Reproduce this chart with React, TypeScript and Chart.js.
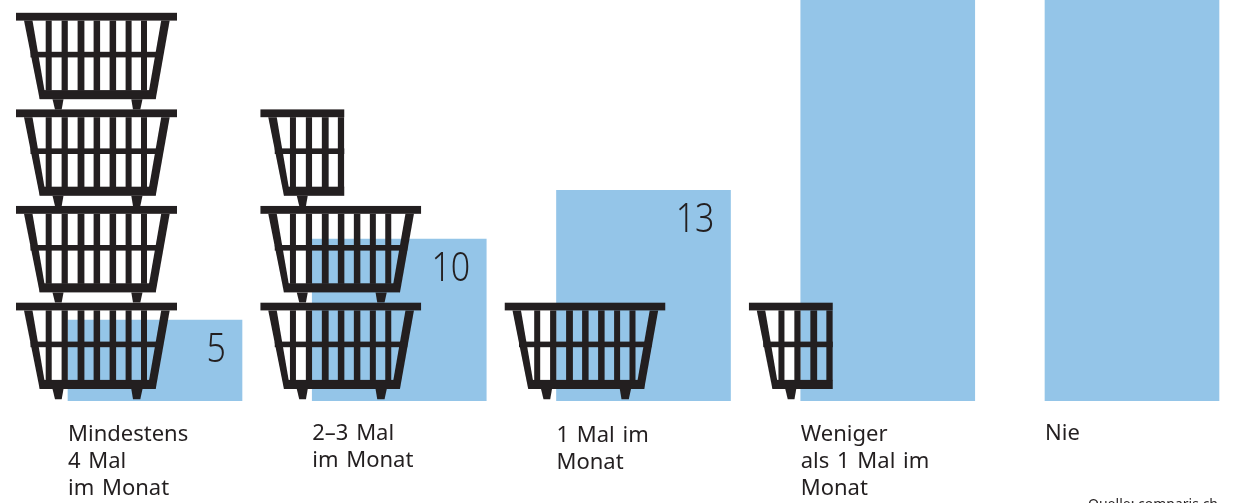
import React, { useEffect, useRef } from "react";
import { Chart, registerables } from "chart.js";

Chart.register(...registerables);

// Share of respondents per shopping frequency, in percent.
const categories: string[][] = [
  ["Mindestens", "4 Mal", "im Monat"],
  ["2–3 Mal", "im Monat"],
  ["1 Mal im", "Monat"],
  ["Weniger", "als 1 Mal im", "Monat"],
  ["Nie"],
];
const shares = [5, 10, 13, 35, 37];
const shownShares = ["5", "10", "13", "", ""];
// Baskets stacked beside each bar; a fraction draws a cut-off basket.
const basketCounts = [4, 2.5, 1, 0.5, 0];
const labelBaselines = [441, 440, 442, 441, 440];
const sourceNote = "Quelle: comparis.ch";

const INK = "#231f20";
const BAR = "#94c5e8";
const BAR_WIDTH = 174;

// Basket glyph, in its own coordinate system (rim's top-left corner is the origin).
const GLYPH = {
  width: 161,
  step: 96.6,
  height: 98.6,
  offsetLeft: 52,
  rim: [0, 0, 161, 8],
  walls: [
    [8, 8, 16.5, 8, 28.5, 78, 23.7, 86.6],
    [153.7, 8, 145.2, 8, 133, 78, 139.7, 86.6],
  ],
  floor: [23.7, 77.5, 116, 9.1],
  band: [14.5, 39.2, 132.5, 5.6],
  slats: [29.7, 45.6, 61.6, 77.6, 93.6, 109.6, 125],
  slatWidths: [6, 6.2, 6.8, 6.5, 6.5, 6, 6],
  slatTop: 8,
  slatHeight: 70,
  feet: [
    [36.5, 86.6, 47.5, 86.6, 45.7, 96.8, 39, 96.8],
    [115.3, 86.6, 126.5, 86.6, 124.3, 96.8, 117, 96.8],
  ],
};

function polygon(ctx: CanvasRenderingContext2D, p: number[]) {
  ctx.beginPath();
  ctx.moveTo(p[0], p[1]);
  for (let i = 2; i < p.length; i += 2) ctx.lineTo(p[i], p[i + 1]);
  ctx.closePath();
  ctx.fill();
}

function drawBasket(ctx: CanvasRenderingContext2D, x: number, y: number, fraction: number) {
  ctx.save();
  ctx.translate(x, y);
  ctx.beginPath();
  ctx.rect(0, 0, fraction < 1 ? 84 : GLYPH.width, GLYPH.height);
  ctx.clip();
  ctx.fillStyle = INK;
  ctx.fillRect(...(GLYPH.rim as [number, number, number, number]));
  GLYPH.walls.forEach((w) => polygon(ctx, w));
  ctx.fillRect(...(GLYPH.floor as [number, number, number, number]));
  ctx.fillRect(...(GLYPH.band as [number, number, number, number]));
  GLYPH.slats.forEach((sx, i) => ctx.fillRect(sx, GLYPH.slatTop, GLYPH.slatWidths[i], GLYPH.slatHeight));
  GLYPH.feet.forEach((f) => polygon(ctx, f));
  ctx.restore();
}

const basketPlugin = {
  id: "basketStacks",
  afterDatasetsDraw(chart: Chart) {
    const { ctx, scales } = chart;
    const zero = scales.y.getPixelForValue(0);
    basketCounts.forEach((count, i) => {
      const left = scales.x.getPixelForValue(i) - BAR_WIDTH / 2 - GLYPH.offsetLeft;
      let remaining = count;
      let level = 0;
      while (remaining > 0) {
        const top = zero - GLYPH.height - level * GLYPH.step;
        drawBasket(ctx, left, top, Math.min(remaining, 1));
        remaining -= 1;
        level += 1;
      }
    });
  },
};

const textPlugin = {
  id: "barTexts",
  afterDraw(chart: Chart) {
    const { ctx, scales } = chart;
    ctx.save();
    ctx.fillStyle = INK;
    ctx.textBaseline = "alphabetic";
    categories.forEach((lines, i) => {
      const center = scales.x.getPixelForValue(i);
      const left = center - BAR_WIDTH / 2;
      const right = center + BAR_WIDTH / 2;
      // category caption under the bar
      ctx.font = '400 22px "Noto Sans"';
      (ctx as any).wordSpacing = "2px";
      ctx.textAlign = "left";
      lines.forEach((line, n) => ctx.fillText(line, left, labelBaselines[i] + n * 27));
      (ctx as any).wordSpacing = "0px";
      // value near the bar's top-right corner, set slightly condensed
      ctx.save();
      ctx.translate(right - 16, scales.y.getPixelForValue(shares[i]) + 42);
      ctx.scale(0.85, 1);
      ctx.font = '300 40px "Noto Sans"';
      ctx.textAlign = "right";
      ctx.fillText(shownShares[i], 0, 0);
      ctx.restore();
    });
    ctx.font = '400 14px "Noto Sans"';
    ctx.textAlign = "right";
    ctx.fillText(sourceNote, 1218, 509);
    ctx.restore();
  },
};

export default function App() {
  const ref = useRef<HTMLCanvasElement>(null);
  useEffect(() => {
    if (!ref.current) return;
    const chart = new Chart(ref.current, {
      type: "bar",
      data: {
        datasets: [
          {
            data: shares.map((y, x) => ({ x, y })),
            backgroundColor: BAR,
            borderWidth: 0,
            barThickness: BAR_WIDTH,
          },
        ],
      },
      options: {
        animation: false,
        responsive: false,
        maintainAspectRatio: false,
        layout: { padding: { left: 0, right: 0, top: 0, bottom: 102 } },
        plugins: { legend: { display: false }, tooltip: { enabled: false } },
        scales: {
          x: { type: "linear", display: false, offset: false, min: -0.6346, max: 4.4217 },
          y: { display: false, min: 0, max: 24.75 },
        },
      },
      plugins: [basketPlugin, textPlugin],
    });
    return () => chart.destroy();
  }, []);
  return (
    <div style={{ position: "absolute", left: 0, top: 0, width: 1235, height: 503, background: "#fff", overflow: "hidden" }}>
      <canvas ref={ref} width={1235} height={503} style={{ display: "block" }} />
    </div>
  );
}
